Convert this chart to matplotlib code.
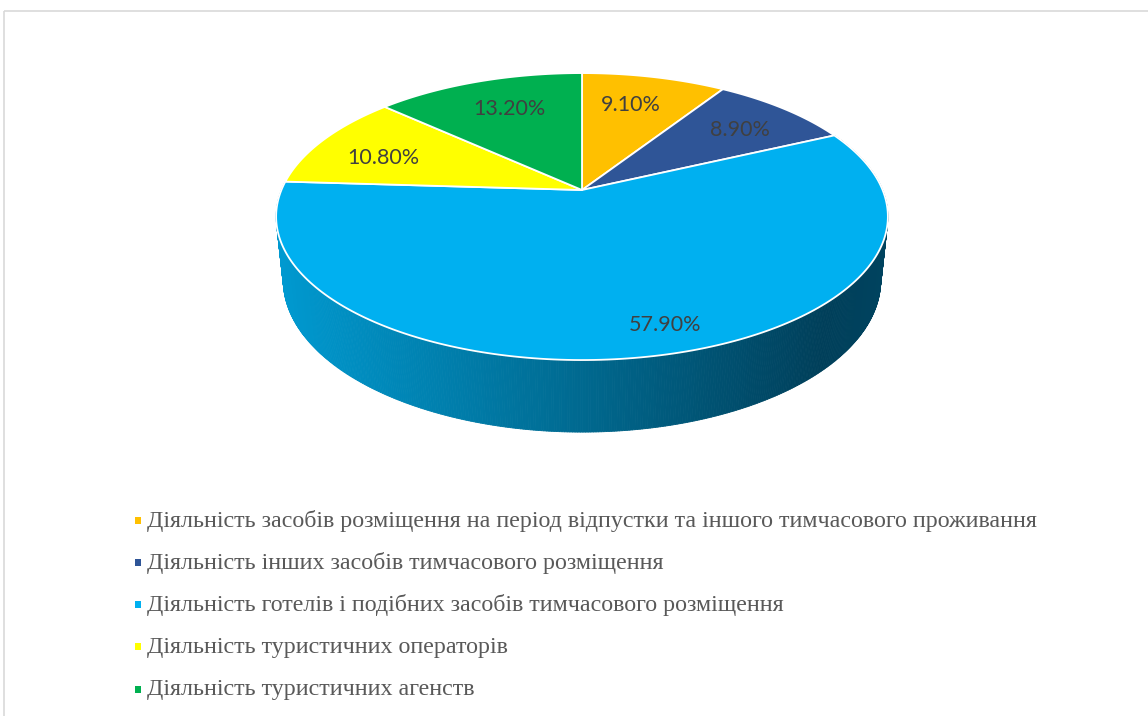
import numpy as np
import matplotlib
matplotlib.use("Agg")
import matplotlib.pyplot as plt
from matplotlib.collections import PolyCollection
from matplotlib.colors import LinearSegmentedColormap
from matplotlib.patches import Polygon, Rectangle

# shares of accommodation / tourism activity, %
categories = [
    "Діяльність засобів розміщення на період відпустки та іншого тимчасового проживання",
    "Діяльність інших засобів тимчасового розміщення",
    "Діяльність готелів і подібних засобів тимчасового розміщення",
    "Діяльність туристичних операторів",
    "Діяльність туристичних агенств",
]
shares = [9.1, 8.9, 57.9, 10.8, 13.2]
colors = ["#FFC000", "#2F5597", "#00B0F0", "#FFFF00", "#00B050"]

# label placement inside each slice (fraction of radius, angle shift in degrees)
label_r = [0.72, 0.74, 0.86, 0.73, 0.71]
label_shift = [-1.5, 1.5, -5.0, -4.0, 1.3]

W, H = 1148, 716
fig = plt.figure(figsize=(W / 100, H / 100), dpi=100)
ax = fig.add_axes([0, 0, 1, 1])
ax.set_xlim(0, W)
ax.set_ylim(H, 0)
ax.axis("off")

# chart area frame
ax.add_patch(Rectangle((3.5, 10.5), W + 20, H + 20, fill=False,
                       edgecolor="#D9D9D9", linewidth=1.2))

# simple perspective camera for the 3D pie
cx, cy = 582, 190
k = 1441.0
R = 0.2086
depth = 0.0503
phi = np.arcsin(0.461)
sphi, cphi = np.sin(phi), np.cos(phi)


def project(theta_deg, r=1.0, z=0.0):
    t = np.radians(theta_deg)
    x3 = R * r * np.sin(t)
    y3 = R * r * np.cos(t)
    d = 1.0 + y3 * cphi - z * sphi
    sx = k * x3 / d
    sy = k * (y3 * sphi + z * cphi) / d
    return cx + sx, cy - sy


total = sum(shares)
bounds = np.concatenate([[0], np.cumsum(shares)]) / total * 360.0

# side wall (only the front part shows, it belongs to the big slice)
side_cmap = LinearSegmentedColormap.from_list(
    "side", [(0.0, "#0099D0"), (0.45, "#006E96"), (0.9, "#003F5A"), (1.0, "#00435F")])
big = int(np.argmax(shares))
th = np.linspace(bounds[big], bounds[big + 1], 500)
tx, ty = project(th)
bx, by = project(th, z=-depth)
quads, qcol = [], []
x_lo, x_hi = tx.min(), tx.max()
for i in range(len(th) - 1):
    quads.append([(tx[i], ty[i]), (tx[i + 1], ty[i + 1]),
                  (bx[i + 1], by[i + 1]), (bx[i], by[i])])
    qcol.append(side_cmap((0.5 * (tx[i] + tx[i + 1]) - x_lo) / (x_hi - x_lo)))
ax.add_collection(PolyCollection(quads, facecolors=qcol, edgecolors=qcol,
                                 linewidths=0.6, zorder=1))

# top face wedges
for i, c in enumerate(colors):
    t = np.linspace(bounds[i], bounds[i + 1], 200)
    px, py = project(t)
    ox, oy = project(0.0, r=0.0)
    pts = np.column_stack([np.r_[ox, px], np.r_[oy, py]])
    ax.add_patch(Polygon(pts, closed=True, facecolor=c, edgecolor="white",
                         linewidth=1.3, joinstyle="round", zorder=2))

    mid = 0.5 * (bounds[i] + bounds[i + 1]) + label_shift[i]
    lx, ly = project(mid, r=label_r[i])
    ax.text(lx, ly, f"{shares[i]:.2f}%", ha="center", va="center",
            fontsize=15.5, family="Lato", color="#404040", zorder=3)

# legend
row_y = [520, 562, 604, 646, 689]
for yy, name, c in zip(row_y, categories, colors):
    ax.add_patch(Rectangle((134.5, yy - 3.5), 6, 7, facecolor=c,
                           edgecolor="none", zorder=3))
    ax.text(147, yy + 1, name, ha="left", va="center", fontsize=17.3,
            family="Liberation Serif", color="#595959", zorder=3)

fig.savefig("out.png", dpi=100, facecolor="white")
